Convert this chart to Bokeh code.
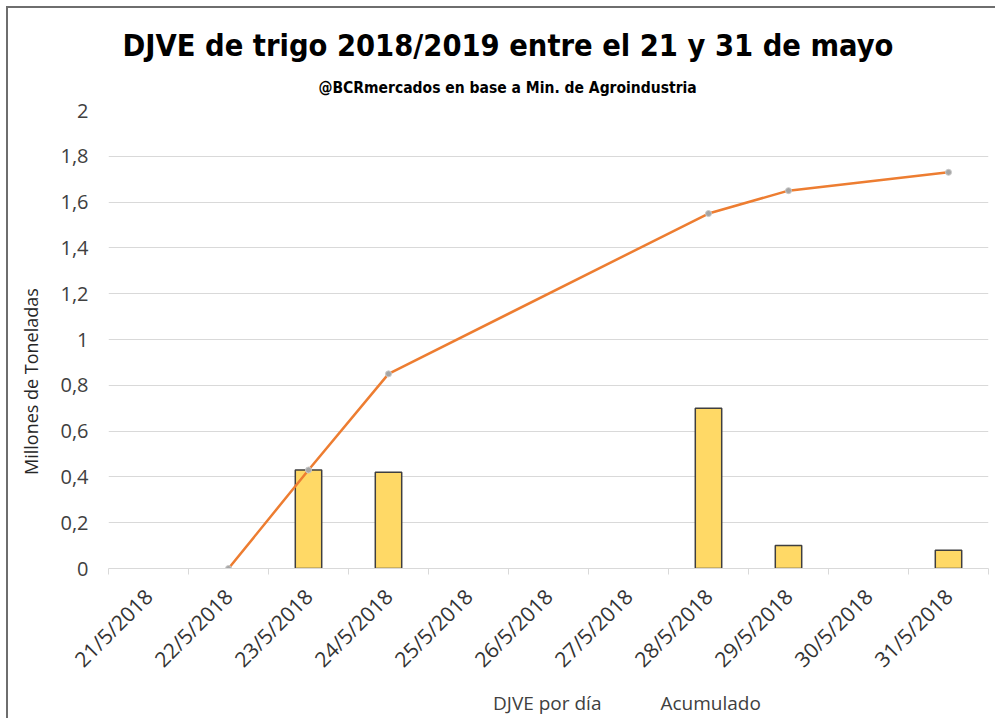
from bokeh.plotting import figure
from bokeh.layouts import column
from bokeh.models import (Range1d, FixedTicker, CustomJSTickFormatter, Title, Legend, LegendItem,
                          ColumnDataSource)
from bokeh.embed import file_html
from bokeh.resources import INLINE
import math

# ---- data ----
fechas = ["21/5/2018", "22/5/2018", "23/5/2018", "24/5/2018", "25/5/2018", "26/5/2018",
          "27/5/2018", "28/5/2018", "29/5/2018", "30/5/2018", "31/5/2018"]
djve_por_dia = [None, None, 0.43, 0.42, None, None, None, 0.70, 0.10, None, 0.08]
acumulado = [None, 0.0, 0.43, 0.85, None, None, None, 1.55, 1.65, None, 1.73]
y_ticks = [0, 0.2, 0.4, 0.6, 0.8, 1.0, 1.2, 1.4, 1.6, 1.8, 2.0]

titulo = "DJVE de trigo 2018/2019 entre el 21 y 31 de mayo"
subtitulo = "@BCRmercados en base a Min. de Agroindustria"
eje_y = "Millones de Toneladas"
serie_barras = "DJVE por día"
serie_linea = "Acumulado"

idx = list(range(len(fechas)))
bar_src = ColumnDataSource(dict(x=[i for i, v in zip(idx, djve_por_dia) if v is not None],
                                top=[v for v in djve_por_dia if v is not None]))
line_src = ColumnDataSource(dict(x=[i for i, v in zip(idx, acumulado) if v is not None],
                                 y=[v for v in acumulado if v is not None]))

FONT = "Open Sans"
TITLE_FONT = "DejaVu Sans Condensed"
BAR_FILL, BAR_LINE = "#FFD966", "#3f3f3f"
LINE_COLOR = "#ED7D31"
MARK_FILL, MARK_LINE = "#A5A5A5", "#C9C9C9"

p = figure(frame_width=880, frame_height=458, output_backend="svg", toolbar_location=None,
           x_range=Range1d(-0.5, len(fechas) - 0.5), y_range=Range1d(0, 2),
           min_border_left=108, min_border_right=7, min_border_top=110, min_border_bottom=118)
p.styles = {"box-shadow": "inset 6px 6px 0 0 white, inset 8px 8px 0 0 #6e6e6e"}
p.outline_line_color = None
p.background_fill_color = "white"
p.border_fill_alpha = 0

p.vbar(x="x", top="top", width=0.33, source=bar_src, fill_color=BAR_FILL,
       line_color=BAR_LINE, line_width=1.5)
p.line(x="x", y="y", source=line_src, line_color=LINE_COLOR, line_width=2.5)
p.scatter(x="x", y="y", source=line_src, size=6, fill_color=MARK_FILL,
          line_color=MARK_LINE, line_width=1)

# axes
xa = p.xaxis[0]
xa.ticker = FixedTicker(ticks=idx, minor_ticks=[i - 0.5 for i in range(len(fechas) + 1)])
xa.major_label_overrides = {i: f for i, f in enumerate(fechas)}
xa.major_label_orientation = math.pi / 4
xa.major_tick_line_color = None
xa.major_tick_out = 0
xa.major_tick_in = 0
xa.minor_tick_line_color = "#d9d9d9"
xa.minor_tick_in = 0
xa.minor_tick_out = 6
xa.axis_line_color = "#d9d9d9"
xa.major_label_text_font = FONT
xa.major_label_text_font_size = "21px"
xa.major_label_text_color = "#333333"
xa.major_label_standoff = 18

ya = p.yaxis[0]
ya.ticker = FixedTicker(ticks=y_ticks)
ya.formatter = CustomJSTickFormatter(code="""
    var s = tick.toFixed(1).replace('.', ',');
    if (s.endsWith(',0')) { s = s.slice(0, -2); }
    return s;
""")
ya.axis_line_color = None
ya.major_tick_line_color = None
ya.major_tick_out = 0
ya.major_tick_in = 0
ya.minor_tick_line_color = None
ya.major_label_text_font = FONT
ya.major_label_text_font_size = "20px"
ya.major_label_text_color = "#404040"
ya.major_label_standoff = 20
ya.axis_label = eje_y + "\u00a0" * 18
ya.axis_label_text_font = FONT
ya.axis_label_text_font_size = "18px"
ya.axis_label_text_font_style = "normal"
ya.axis_label_text_color = "#262626"
ya.axis_label_standoff = 14

p.xgrid.grid_line_color = None
p.ygrid.grid_line_color = "#d9d9d9"
p.ygrid.grid_line_width = 1

# titles
p.title.visible = False
p.add_layout(Title(text=subtitulo, align="left", text_font=TITLE_FONT, text_font_size="15.5px",
                   text_font_style="bold", text_color="black", offset=210, standoff=28), "above")
p.add_layout(Title(text=titulo, align="left", text_font=TITLE_FONT, text_font_size="30.5px",
                   text_font_style="bold", text_color="black", offset=14, standoff=0), "above")

# ---- legend strip (separate small figure below the chart) ----
lg = figure(width=995, height=32, output_backend="svg", toolbar_location=None,
            x_axis_location=None, y_axis_location=None,
            x_range=Range1d(0, 1), y_range=Range1d(0, 1),
            min_border_left=0, min_border_right=0, min_border_top=0, min_border_bottom=0)
lg.styles = {"box-shadow": "inset 6px 0 0 0 white, inset 8px 0 0 0 #6e6e6e"}
lg.outline_line_color = None
lg.background_fill_alpha = 0
lg.border_fill_alpha = 0
lg.xgrid.visible = False
lg.ygrid.visible = False
lg.title.visible = False

empty = ColumnDataSource(dict(x=[], y=[], top=[]))
lb = lg.vbar(x="x", top="top", width=0.1, source=empty, fill_color=BAR_FILL,
             line_color=BAR_LINE, line_width=1.5)
ll = lg.line(x="x", y="y", source=empty, line_color=LINE_COLOR, line_width=2.5)
lp = lg.scatter(x="x", y="y", source=empty, size=6, fill_color=MARK_FILL,
                line_color=MARK_LINE, line_width=1)

legend = Legend(items=[LegendItem(label=serie_barras, renderers=[lb]),
                       LegendItem(label=serie_linea, renderers=[ll, lp])],
                orientation="horizontal", location=(350, 2), border_line_color=None,
                background_fill_alpha=0, label_text_font=FONT, label_text_font_size="19px",
                label_text_color="#404040", glyph_width=32, glyph_height=16, spacing=24,
                label_standoff=3, margin=0, padding=0)
lg.add_layout(legend, "center")

layout = column(p, lg, spacing=0)
open("out.html", "w").write(file_html(layout, INLINE))
